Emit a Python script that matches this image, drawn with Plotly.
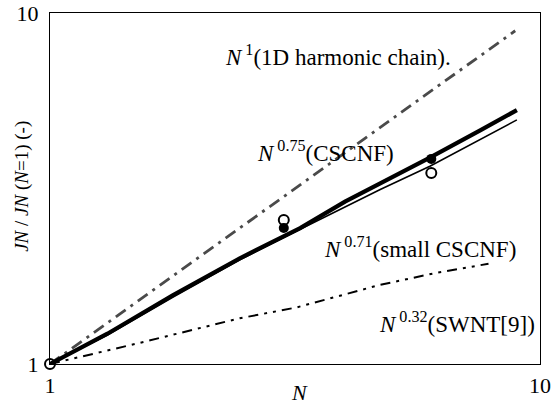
import plotly.graph_objects as go

# 1D harmonic chain reference line (N^1)
n_harm = [1, 2, 3, 4, 5, 6, 7, 8, 8.9]
j_harm = [1, 2, 3, 4, 5, 6, 7, 8, 8.9]

# CSCNF (thick line, ~N^0.75)
n_cscnf = [1, 1.31, 1.78, 2.44, 3.24, 4.0, 4.72, 5.96, 7.55, 8.97]
j_cscnf = [1, 1.22, 1.57, 2.00, 2.44, 2.90, 3.27, 3.87, 4.63, 5.29]

# small CSCNF (thin line, ~N^0.71)
n_small = [1, 1.31, 1.78, 2.44, 3.24, 4.0, 4.72, 5.96, 7.55, 8.97]
j_small = [1, 1.21, 1.55, 1.98, 2.42, 2.80, 3.14, 3.66, 4.36, 4.96]

# SWNT[9] (~N^0.32)
n_swnt = [1, 1.53, 2.44, 3.19, 4.71, 6.16, 7.2, 7.85]
j_swnt = [1, 1.15, 1.35, 1.45, 1.68, 1.82, 1.89, 1.93]

# markers
n_open = [1, 3, 6]
j_open = [1, 2.57, 3.50]
n_fill = [3, 6]
j_fill = [2.44, 3.84]

FONT = "Liberation Serif, Times New Roman, serif"

fig = go.Figure()
fig.add_trace(go.Scatter(x=n_harm, y=j_harm, mode="lines",
                         line=dict(color="#4a4a4a", width=2.8, dash="12px,6px,3px,6px"),
                         showlegend=False))
fig.add_trace(go.Scatter(x=n_swnt, y=j_swnt, mode="lines",
                         line=dict(color="black", width=2, dash="10px,6px,3px,6px,3px,6px"),
                         showlegend=False))
fig.add_trace(go.Scatter(x=n_cscnf, y=j_cscnf, mode="lines",
                         line=dict(color="black", width=4.2),
                         showlegend=False))
fig.add_trace(go.Scatter(x=n_small, y=j_small, mode="lines",
                         line=dict(color="black", width=1.6),
                         showlegend=False))
fig.add_trace(go.Scatter(x=n_fill, y=j_fill, mode="markers",
                         marker=dict(symbol="circle", size=10, color="black"),
                         showlegend=False, cliponaxis=False))
fig.add_trace(go.Scatter(x=n_open, y=j_open, mode="markers",
                         marker=dict(symbol="circle-open", size=10, color="black",
                                     line=dict(width=2)),
                         showlegend=False, cliponaxis=False))

def ann(text, x, y, size=23, **kw):
    fig.add_annotation(text=text, x=x, y=y, xref="paper", yref="paper",
                       showarrow=False, font=dict(family=FONT, size=size, color="black"), **kw)

ann("<i>N</i><sup> 1</sup>(1D harmonic chain).", 0.353, 0.88, xanchor="left", yanchor="middle")
ann("<i>N</i><sup> 0.75</sup>(CSCNF)", 0.418, 0.604, xanchor="left", yanchor="middle")
ann("<i>N</i><sup> 0.71</sup>(small CSCNF)", 0.555, 0.333, xanchor="left", yanchor="middle")
ann("<i>N</i><sup> 0.32</sup>(SWNT[9])", 0.667, 0.117, xanchor="left", yanchor="middle")
# axis titles
ann("<i>N</i>", 0.51, -0.08, size=22, xanchor="center", yanchor="middle")
ann("<i>JN</i> / <i>JN</i> (<i>N</i>=1) (-)", -0.057, 0.505, size=19, xanchor="center",
    yanchor="middle", textangle=-90)

axis_common = dict(type="log", range=[0, 1], tickvals=[1, 10], ticktext=["1", "10"],
                   showgrid=False, zeroline=False, showline=True, linecolor="black",
                   linewidth=1, mirror=True, ticks="", automargin=False,
                   tickfont=dict(family=FONT, size=22, color="black"))

fig.update_layout(
    width=551, height=410,
    margin=dict(l=50, r=11, t=13, b=46),
    paper_bgcolor="white", plot_bgcolor="white",
    xaxis=dict(**axis_common, ticklabelstandoff=2),
    yaxis=dict(**axis_common, ticklabelstandoff=6),
)
fig.write_html("out.html", config={"displayModeBar": False},
               post_script="document.body.style.margin='0px';")
